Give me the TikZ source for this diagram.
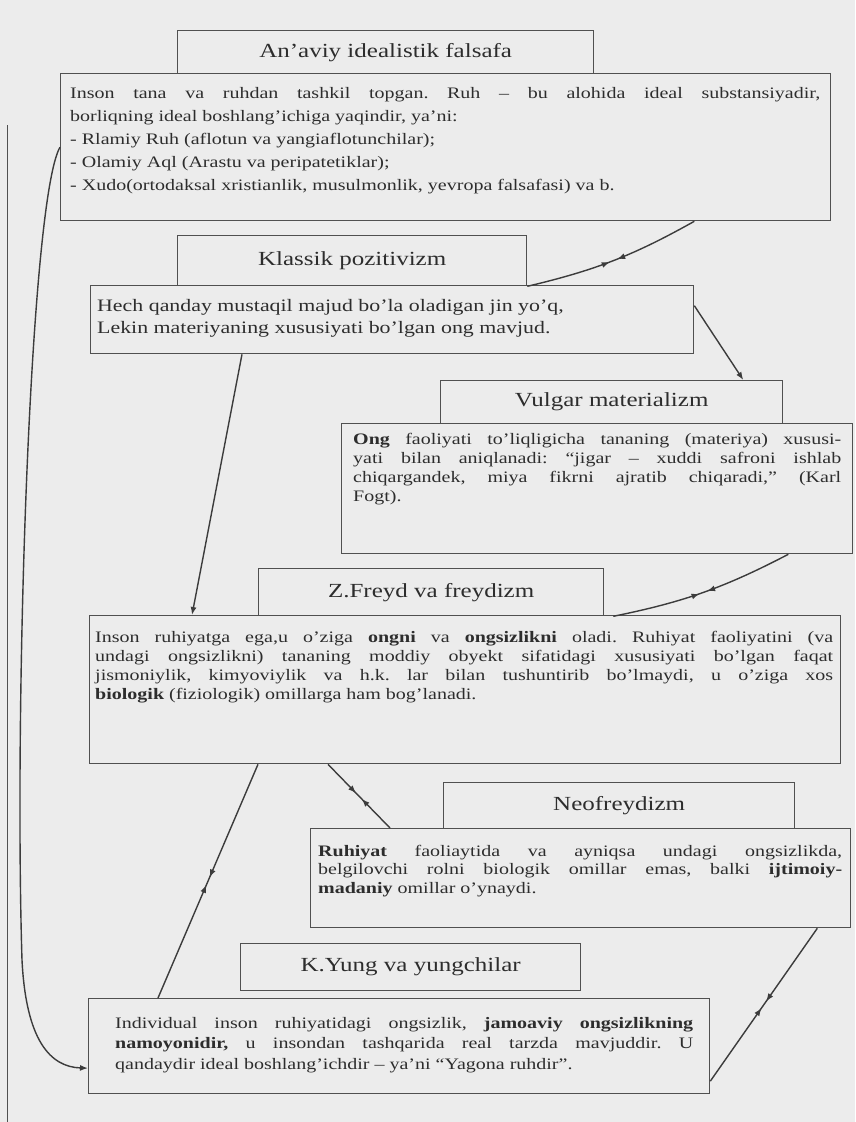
\documentclass[tikz,border=0pt]{standalone}
\usepackage{fontspec}
\setmainfont{Liberation Serif}[FakeStretch=1.25]
\usetikzlibrary{arrows.meta,decorations.markings,calc}
\definecolor{paper}{RGB}{236,236,236}
\definecolor{ink}{RGB}{45,45,45}
\definecolor{edge}{RGB}{80,80,80}
\definecolor{wire}{RGB}{60,60,60}
\frenchspacing
\tikzset{
  hdr/.style={draw=edge, line width=1.3pt, anchor=north west, inner sep=0pt, text=ink, font=\fontsize{20}{24}\selectfont},
  bodybox/.style={draw=edge, line width=1.3pt, anchor=north west, inner sep=0pt},
  bodytext/.style={anchor=base west, inner sep=0pt, text=ink, align=justify,
    execute at begin node={\frenchspacing\hyphenpenalty=10000\exhyphenpenalty=10000\tolerance=10000}},
  wirestyle/.style={color=wire, line width=1.4pt},
  endarrow/.style={wirestyle, -{Latex[length=8pt,width=6pt]}},
  midpair/.style={wirestyle, postaction={decorate}, decoration={markings,
    mark=at position 0.5 with {\begin{scope}[xshift=-4pt]\arrow{Latex[length=8pt,width=6pt]}\end{scope}\begin{scope}[xshift=4pt]\arrowreversed{Latex[length=8pt,width=6pt]}\end{scope}}}},
}
\begin{document}
\begin{tikzpicture}[x=1pt,y=-1pt]
\useasboundingbox (0,0) rectangle (855,1122);
\fill[paper] (0,0) rectangle (855,1122);
\draw[edge, line width=1pt] (7,125) -- (7,1122);

% headers
\node[hdr, minimum width=416pt, minimum height=43pt] (h1) at (177,30) {An’aviy idealistik falsafa};
\node[hdr, minimum width=349pt, minimum height=50pt] (h2) at (177,235) {Klassik pozitivizm};
\node[hdr, minimum width=342pt, minimum height=43pt] (h3) at (440,380) {Vulgar materializm};
\node[hdr, minimum width=345pt, minimum height=47pt] (h4) at (258,568) {Z.Freyd va freydizm};
\node[hdr, minimum width=351pt, minimum height=46pt] (h5) at (443,782) {Neofreydizm};
\node[hdr, minimum width=340pt, minimum height=47pt] (h6) at (240,943) {K.Yung va yungchilar};

% body boxes
\node[bodybox, minimum width=770pt, minimum height=147pt] (b1) at (60,73) {};
\node[bodybox, minimum width=603pt, minimum height=68pt] (b2) at (90,285) {};
\node[bodybox, minimum width=511pt, minimum height=130pt] (b3) at (341,423) {};
\node[bodybox, minimum width=751pt, minimum height=148pt] (b4) at (89,615) {};
\node[bodybox, minimum width=540pt, minimum height=99pt] (b5) at (310,828) {};
\node[bodybox, minimum width=621pt, minimum height=95pt] (b6) at (88,998) {};

% body texts
\node[bodytext, text width=750pt, font=\fontsize{16}{23}\selectfont] (t1) at (70,98)
 {Inson tana va ruhdan tashkil topgan. Ruh – bu alohida ideal substansiyadir,\linebreak
  borliqning ideal boshlang’ichiga yaqindir, ya’ni:\\
  - Rlamiy Ruh (aflotun va yangiaflotunchilar);\\
  - Olamiy Aql (Arastu va peripatetiklar);\\
  - Xudo(ortodaksal xristianlik, musulmonlik, yevropa falsafasi) va b.};
\node[bodytext, text width=585pt, font=\fontsize{17.5}{22}\selectfont] (t2) at (97,311)
 {Hech qanday mustaqil majud bo’la oladigan jin yo’q,\\
  Lekin materiyaning xususiyati bo’lgan ong mavjud.};
\node[bodytext, text width=488pt, font=\fontsize{16}{19}\selectfont] (t3) at (353,444)
 {\textbf{Ong} faoliyati to’liqligicha tananing (materiya) xususi-\linebreak
  yati bilan aniqlanadi: “jigar – xuddi safroni ishlab\linebreak
  chiqargandek, miya fikrni ajratib chiqaradi,” (Karl\linebreak
  Fogt).};
\node[bodytext, text width=738pt, font=\fontsize{16}{19}\selectfont] (t4) at (95,642)
 {Inson ruhiyatga ega,u o’ziga \textbf{ongni} va \textbf{ongsizlikni} oladi. Ruhiyat faoliyatini (va\linebreak
  undagi ongsizlikni) tananing moddiy obyekt sifatidagi xususiyati bo’lgan faqat\linebreak
  jismoniylik, kimyoviylik va h.k. lar bilan tushuntirib bo’lmaydi, u o’ziga xos\linebreak
  \textbf{biologik} (fiziologik) omillarga ham bog’lanadi.};
\node[bodytext, text width=524pt, font=\fontsize{16}{18.5}\selectfont] (t5) at (318,856)
 {\textbf{Ruhiyat} faoliaytida va ayniqsa undagi ongsizlikda,\linebreak
  belgilovchi rolni biologik omillar emas, balki \textbf{ijtimoiy-}\linebreak
  \textbf{madaniy} omillar o’ynaydi.};
\node[bodytext, text width=578pt, font=\fontsize{16}{20.5}\selectfont] (t6) at (115,1028)
 {Individual inson ruhiyatidagi ongsizlik, \textbf{jamoaviy ongsizlikning}\linebreak
  \textbf{namoyonidir,} u insondan tashqarida real tarzda mavjuddir. U\linebreak
  qandaydir ideal boshlang’ichdir – ya’ni “Yagona ruhdir”.};

% connectors
\draw[midpair] (b1.south -| b2.east) to[bend left=8] (h2.south east);
\draw[endarrow] ([yshift=14pt]b2.east) -- ([xshift=-40pt]h3.north east);
\draw[midpair] ([xshift=-65pt]b3.south east) to[bend left=8] ([xshift=9pt]h4.south east);
\draw[endarrow] ([xshift=152pt]b2.south west) -- ([xshift=103pt]b4.north west);
\draw[midpair] ([xshift=169pt]b4.south west) -- ([xshift=70pt]b6.north west);
\draw[midpair] ([xshift=239pt]b4.south west) -- ([xshift=80pt]b5.north west);
\draw[endarrow] (b1.west) .. controls (30,200) and (14,700) .. (22,960) .. controls (26,1040) and (50,1067) .. ([yshift=-22pt]b6.west);
\draw[midpair] ([xshift=-34pt]b5.south east) -- ([yshift=-35pt]b6.east);
\end{tikzpicture}
\end{document}
